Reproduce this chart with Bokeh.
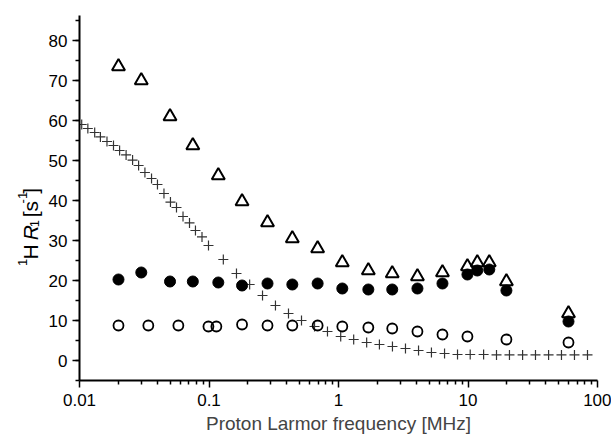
import math
from bokeh.plotting import figure
from bokeh.layouts import row
from bokeh.models import (Range1d, FixedTicker, SingleIntervalTicker, CustomJSTickFormatter)
from bokeh.core.properties import value
from bokeh.embed import file_html
from bokeh.resources import INLINE

# ---------------- data ----------------
freq_tri = [0.02, 0.03, 0.05, 0.075, 0.118, 0.18, 0.283, 0.44, 0.69, 1.07, 1.7, 2.6,
            4.07, 6.35, 9.9, 11.8, 14.6, 19.8, 59.7]
r1_tri = [73.5, 70, 61, 53.75, 46.25, 39.75, 34.5, 30.5, 28, 24.5, 22.5, 21.75,
          21, 22, 23.5, 24.5, 24.5, 19.75, 11.75]

freq_fill = [0.02, 0.03, 0.05, 0.075, 0.118, 0.18, 0.283, 0.44, 0.69, 1.07, 1.7, 2.6,
             4.07, 6.35, 9.9, 11.8, 14.6, 19.8, 59.7]
r1_fill = [20.25, 22, 19.75, 19.75, 19.5, 18.75, 19.25, 19, 19.25, 18, 17.75, 17.75,
           18, 19.25, 21.5, 22.5, 22.75, 17.5, 9.75]

freq_open = [0.02, 0.034, 0.058, 0.099, 0.114, 0.18, 0.283, 0.44, 0.69, 1.07, 1.7, 2.6,
             4.07, 6.35, 9.9, 19.8, 59.7]
r1_open = [8.75, 8.75, 8.75, 8.5, 8.5, 9, 8.75, 8.75, 8.75, 8.5, 8.25, 8,
           7.25, 6.5, 6, 5.25, 4.5]

freq_plus = [0.0104, 0.0116, 0.0131, 0.0145, 0.0163, 0.0183, 0.0204, 0.0229, 0.0257,
             0.0286, 0.0320, 0.0360, 0.0400, 0.0449, 0.0504, 0.0561, 0.0630, 0.0707,
             0.0786, 0.0883, 0.0991,
             0.129, 0.163, 0.206, 0.259, 0.326, 0.411, 0.518, 0.653, 0.822, 1.04,
             1.31, 1.65, 2.07, 2.61, 3.29, 4.15, 5.22, 6.59, 8.3, 10.4, 13.2, 16.6,
             20.9, 26.4, 33.2, 41.9, 52.7, 66.4, 83.7]
r1_plus = [59, 58, 57, 55.9, 54.75, 53.75, 52.5, 51.4, 50.1,
           48.75, 47, 45.5, 44, 41.75, 39.6, 38.25, 36, 34.4,
           32.5, 30.9, 28.75,
           25.25, 21.75, 19, 16.25, 13.75, 11.75, 10, 8.5, 7.25, 6,
           5.25, 4.5, 4, 3.5, 3, 2.5, 2, 1.75, 1.5, 1.5, 1.5, 1.4,
           1.4, 1.4, 1.4, 1.4, 1.4, 1.4, 1.4]

x_ticks = [0.01, 0.1, 1, 10, 100]
x_minor = [m * d for d in [0.01, 0.1, 1, 10] for m in range(2, 10)]
x_label = "Proton Larmor frequency [MHz]"
# y title pieces: (text, font size, style, baseline shift)
y_title = [("1", "13px", "normal", "sup"), ("H", "21px", "normal", ""),
           ("R", "21px", "italic", ""), ("1", "13px", "normal", "sub"),
           ("[s", "21px", "normal", ""), ("-1", "13px", "normal", "sup"),
           ("]", "21px", "normal", "")]
y_title_advance = [8, 23, 15.5, 12, 16.5, 11.5, 6]   # px advance after each piece

FONT = "Liberation Sans"
W_SIDE, H = 45, 437

# ---- side figure holding the rotated y-axis title ----
side = figure(width=W_SIDE, height=H, x_range=Range1d(0, W_SIDE), y_range=Range1d(0, H),
              output_backend="svg", toolbar_location=None,
              min_border=0, min_border_left=0, min_border_right=0,
              min_border_top=0, min_border_bottom=0)
side.axis.visible = False
side.grid.visible = False
side.outline_line_color = None
side.background_fill_color = "white"
side.border_fill_color = "white"

bx = 30      # baseline (px)
sy = 300     # start of the title (px)
for (txt, size, style, shift), adv in zip(y_title, y_title_advance):
    xx = bx - 8 if shift == "sup" else (bx + 4 if shift == "sub" else bx)
    side.text(x=[xx], y=[H - sy], text=[txt], angle=math.pi / 2,
              text_font=value(FONT), text_font_size=value(size),
              text_font_style=style, text_align="left",
              text_baseline="alphabetic", text_color="black")
    sy -= adv

# ---- main figure ----
p = figure(width=611 - W_SIDE, height=H, x_axis_type="log",
           x_range=Range1d(0.01, 100), y_range=Range1d(-5, 86.25),
           output_backend="svg", toolbar_location=None,
           min_border_left=79 - W_SIDE, min_border_right=14, min_border_top=15,
           min_border_bottom=57)
p.outline_line_color = None
p.xgrid.visible = False
p.ygrid.visible = False
p.background_fill_color = "white"
p.border_fill_color = "white"

p.xaxis.ticker = FixedTicker(ticks=x_ticks, minor_ticks=x_minor)
p.xaxis.formatter = CustomJSTickFormatter(code="return tick.toString();")
p.yaxis.ticker = SingleIntervalTicker(interval=10, num_minor_ticks=2)
for ax in (p.xaxis[0], p.yaxis[0]):
    ax.axis_line_width = 2
    ax.axis_line_color = "black"
    ax.major_tick_line_color = "black"
    ax.minor_tick_line_color = "black"
    ax.major_tick_line_width = 1.5
    ax.minor_tick_line_width = 1.5
    ax.major_tick_out = 7
    ax.major_tick_in = 0
    ax.minor_tick_out = 4
    ax.minor_tick_in = 0
    ax.major_label_text_font = FONT
    ax.major_label_text_font_size = "17px"
    ax.major_label_text_color = "black"
p.xaxis.major_label_standoff = 6
p.yaxis.major_label_standoff = 5
p.xaxis.axis_label = x_label
p.xaxis.axis_label_text_font = FONT
p.xaxis.axis_label_text_font_style = "normal"
p.xaxis.axis_label_text_font_size = "19px"
p.xaxis.axis_label_standoff = 4

p.scatter(freq_plus, r1_plus, marker="cross", size=10, line_color="#333333", line_width=1.2)
p.scatter(freq_open, r1_open, marker="circle", size=10, fill_color=None,
          line_color="black", line_width=1.8)
p.scatter(freq_fill, r1_fill, marker="circle", size=11, fill_color="black", line_color="black")
p.scatter(freq_tri, r1_tri, marker="triangle", size=13, fill_color=None,
          line_color="black", line_width=2)

layout = row(side, p, spacing=0)
open("out.html", "w").write(file_html(layout, INLINE))
